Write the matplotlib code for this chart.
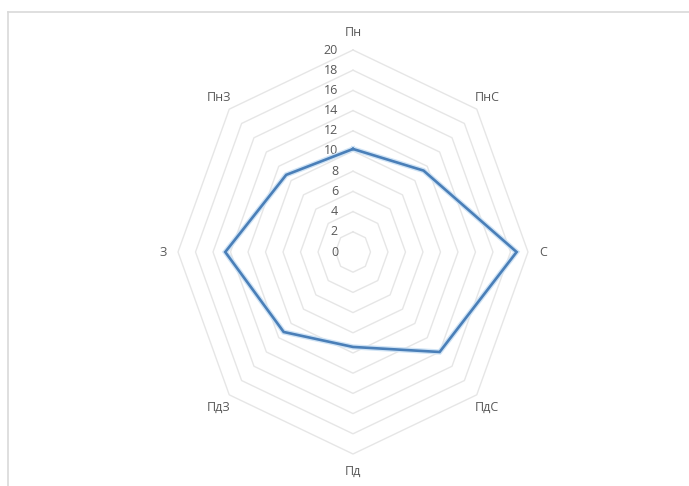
import numpy as np
import matplotlib
matplotlib.use("Agg")
import matplotlib.pyplot as plt
from matplotlib.transforms import ScaledTranslation
from matplotlib.lines import Line2D

plt.rcParams['font.family'] = ['Open Sans', 'DejaVu Sans']

categories = ['Пн', 'ПнС', 'С', 'ПдС', 'Пд', 'ПдЗ', 'З', 'ПнЗ']
values = [10.2, 11.4, 18.7, 14.0, 9.4, 11.2, 14.6, 10.8]
ticks = [0, 2, 4, 6, 8, 10, 12, 14, 16, 18, 20]

W, H = 689, 486
fig = plt.figure(figsize=(W / 100, H / 100), dpi=100)

# outer chart-area border (light grey)
fig.add_artist(Line2D([8 / W, 8 / W], [0, 1 - 12 / H], transform=fig.transFigure,
                      color='#d9d9d9', lw=1.2))
fig.add_artist(Line2D([8 / W, 1], [1 - 12 / H, 1 - 12 / H], transform=fig.transFigure,
                      color='#d9d9d9', lw=1.2))

cx, cy = 353, 252
rx, ry = 175, 202
ax = fig.add_axes([(cx - rx) / W, (H - cy - ry) / H, 2 * rx / W, 2 * ry / H],
                  projection='polar')
ax.set_aspect('auto')
ax.set_theta_zero_location('N')
ax.set_theta_direction(-1)
ax.set_ylim(0, 20)
ax.grid(False)
ax.set_xticks([])
ax.set_yticks([])
ax.spines['polar'].set_visible(False)
ax.patch.set_alpha(0)

n = len(categories)
angles = np.arange(n) * 2 * np.pi / n
closed = np.append(angles, angles[0])

# octagonal gridlines
for t in ticks[1:]:
    ax.plot(closed, [t] * (n + 1), color='#e6e6e6', lw=1.0, zorder=1, clip_on=False)

# radial tick labels
off = ScaledTranslation(-15 / 100, 0, fig.dpi_scale_trans)
for t in ticks:
    ax.text(0, t, str(t), transform=ax.transData + off, ha='right', va='center',
            fontsize=9, color='#595959')

# category labels
for a, c in zip(angles, categories):
    ax.text(a, 21.7, c, ha='center', va='center', fontsize=9, color='#595959')

# data line
vals = np.append(values, values[0])
ax.plot(closed, vals, color='#cfe3f5', lw=3.8, zorder=3, solid_joinstyle='miter')
ax.plot(closed, vals, color='#4a7fb8', lw=1.9, zorder=4, solid_joinstyle='miter')

fig.savefig('out.png', dpi=100, facecolor='white')
